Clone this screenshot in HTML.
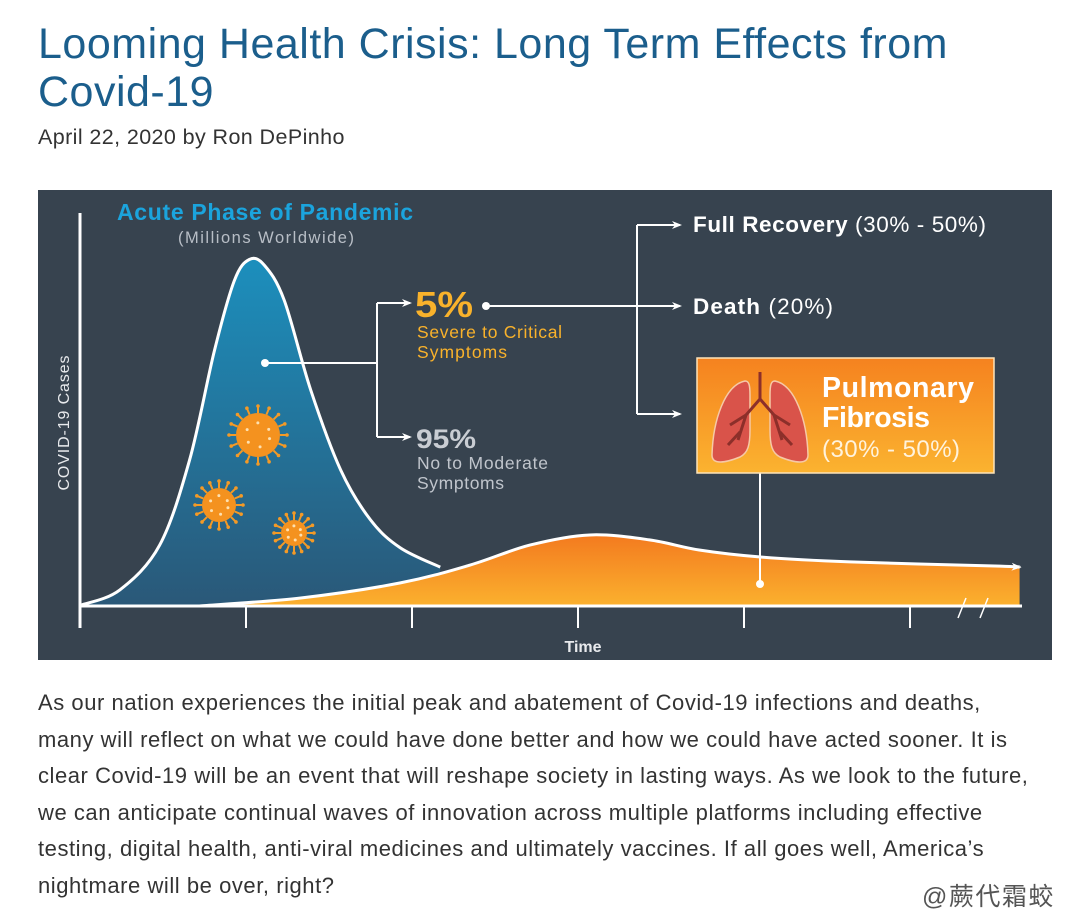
<!DOCTYPE html>
<html><head><meta charset="utf-8">
<style>
body{margin:0;background:#fff;width:1080px;height:924px;overflow:hidden;position:relative;font-family:"Liberation Sans","Noto Sans CJK SC",sans-serif;}
.title{position:absolute;left:38px;top:20px;width:1040px;font-size:43px;line-height:48px;color:#1b5e8c;margin:0;font-weight:normal;letter-spacing:0.5px;white-space:nowrap;}
.byline{position:absolute;left:38px;top:125px;font-size:21.5px;color:#333;letter-spacing:0.4px;}
.body{position:absolute;left:38px;top:685px;width:1040px;font-size:22px;line-height:36.6px;color:#333;letter-spacing:0.55px;white-space:nowrap;}
.wm{position:absolute;left:922px;top:877px;font-size:25px;color:#555;letter-spacing:1.5px;}
svg{position:absolute;left:38px;top:190px;}
</style></head><body>
<h1 class="title">Looming Health Crisis: Long Term Effects from<br>Covid-19</h1>
<div class="byline">April 22, 2020 by Ron DePinho</div>
<svg id="chart" width="1014" height="470" viewBox="38 190 1014 470">
<defs>
<linearGradient id="blueG" x1="0" y1="0" x2="0" y2="1"><stop offset="0" stop-color="#1c8fbd"/><stop offset="1" stop-color="#2a5878"/></linearGradient>
<linearGradient id="orG" x1="0" y1="0" x2="0" y2="1"><stop offset="0" stop-color="#f37a1f"/><stop offset="1" stop-color="#fbb12e"/></linearGradient>
<linearGradient id="boxG" x1="0" y1="0" x2="0" y2="1"><stop offset="0" stop-color="#f5821f"/><stop offset="1" stop-color="#fbb330"/></linearGradient>
<marker id="arr" markerWidth="10" markerHeight="10" refX="8" refY="5" orient="auto" markerUnits="userSpaceOnUse"><path d="M0,1 L10,5 L0,9 L3,5Z" fill="#fff"/></marker>
</defs>
<rect x="38" y="190" width="1014" height="470" fill="#37434f"/>
<g id="curves"></g>
<g id="axes"></g>
<g id="viruses"></g>
<text x="117" y="220" font-size="23" font-weight="bold" fill="#1ba4dd" textLength="296" lengthAdjust="spacing">Acute Phase of Pandemic</text>
<text x="178" y="243" font-size="16.5" fill="#b8bec6" textLength="176" lengthAdjust="spacing">(Millions Worldwide)</text>
<text transform="translate(69,423) rotate(-90)" font-size="16" fill="#e8eaed" text-anchor="middle" textLength="135" lengthAdjust="spacing">COVID-19 Cases</text>
<text x="583" y="652" font-size="16" font-weight="bold" fill="#e8eaed" text-anchor="middle">Time</text>
<g stroke="#fff" stroke-width="2" fill="none">
<circle cx="265" cy="363" r="4" fill="#fff" stroke="none"/>
<path d="M265,363 H377 M377,303 V437" />
<path d="M377,303 H410" marker-end="url(#arr)"/>
<path d="M377,437 H410" marker-end="url(#arr)"/>
<circle cx="486" cy="306" r="4" fill="#fff" stroke="none"/>
<path d="M486,306 H680" marker-end="url(#arr)"/>
<path d="M637,225 V414"/>
<path d="M637,225 H680" marker-end="url(#arr)"/>
<path d="M637,414 H680" marker-end="url(#arr)"/>
<path d="M760,473 V583"/>
<circle cx="760" cy="584" r="4" fill="#fff" stroke="none"/>
</g>
<text x="415" y="317" font-size="36" font-weight="bold" fill="#f9b22b" textLength="58" lengthAdjust="spacingAndGlyphs">5%</text>
<text x="417" y="338" font-size="17.5" fill="#f9b22b" textLength="145" lengthAdjust="spacing">Severe to Critical</text>
<text x="417" y="358" font-size="17.5" fill="#f9b22b" textLength="90" lengthAdjust="spacing">Symptoms</text>
<text x="416" y="448" font-size="27" font-weight="bold" fill="#c9cdd3" textLength="60" lengthAdjust="spacingAndGlyphs">95%</text>
<text x="417" y="469" font-size="17.5" fill="#c0c5cc" textLength="131" lengthAdjust="spacing">No to Moderate</text>
<text x="417" y="489" font-size="17.5" fill="#c0c5cc" textLength="87" lengthAdjust="spacing">Symptoms</text>
<text x="693" y="232" font-size="22.5" fill="#fff" textLength="293" lengthAdjust="spacing"><tspan font-weight="bold">Full Recovery</tspan> (30% - 50%)</text>
<text x="693" y="314" font-size="22.5" fill="#fff" textLength="140" lengthAdjust="spacing"><tspan font-weight="bold">Death</tspan> (20%)</text>
<rect x="697" y="358" width="297" height="115" fill="url(#boxG)" stroke="#fde3b8" stroke-width="1.5"/>
<g>
<path d="M745,381 C725,385 713,420 712,455 C712,465 725,463 740,457 C748,453 750,445 750,430 L750,395 C750,385 749,381 745,381Z" fill="#d9534a" stroke="#f6c9a6" stroke-width="1.5"/>
<path d="M775,381 C795,385 807,420 808,455 C808,465 795,463 780,457 C772,453 770,445 770,430 L770,395 C770,385 771,381 775,381Z" fill="#d9534a" stroke="#f6c9a6" stroke-width="1.5"/>
<path d="M760,372 V399 M760,399 L746,415 L738,440 M760,399 L774,415 L782,440 M746,415 L730,425 M774,415 L790,425 M740,432 L728,445 M780,432 L792,445" stroke="#8c2f2a" stroke-width="3" fill="none"/>
</g>
<text x="822" y="397" font-size="28.5" font-weight="bold" fill="#fff" textLength="152" lengthAdjust="spacing">Pulmonary</text>
<text x="822" y="427" font-size="28.5" font-weight="bold" fill="#fff" textLength="108" lengthAdjust="spacing">Fibrosis</text>
<text x="822" y="457" font-size="24" fill="#fff3dd" textLength="138" lengthAdjust="spacing">(30% - 50%)</text>
<g stroke="#fff" stroke-width="1.5"><line x1="958" y1="618" x2="966" y2="598"/><line x1="980" y1="618" x2="988" y2="598"/></g>
</svg>
<div class="body">As our nation experiences the initial peak and abatement of Covid-19 infections and deaths,<br>many will reflect on what we could have done better and how we could have acted sooner. It is<br>clear Covid-19 will be an event that will reshape society in lasting ways. As we look to the future,<br>we can anticipate continual waves of innovation across multiple platforms including effective<br>testing, digital health, anti-viral medicines and ultimately vaccines. If all goes well, America’s<br>nightmare will be over, right?</div>
<div class="wm">@蕨代霜蛟</div>
<script>
const acuteTime=[0.01,0.24,0.48,0.66,0.81,0.93,1.02,1.11,1.23,1.39,1.57,1.75,1.93,2.17];
const acuteCases=[0.3,4.6,17.4,41.7,73,93,99,97.4,87.4,61.7,38.9,24.6,16.6,11.1];
const longTime=[0.72,1.33,1.93,2.35,2.71,3.07,3.43,3.73,4.1,4.64,5.54,5.66];
const longCases=[0,2.3,6.6,11.7,17.4,20.3,18.9,16,14,12.6,11.4,11.1];
const tickTimes=[0,1,2,3,4,5];
const NS='http://www.w3.org/2000/svg';
function xS(t){return 80+t*166;}
function yS(v){return 606-v*3.5;}
function smooth(pts){let d='M'+pts[0][0]+','+pts[0][1];for(let i=0;i<pts.length-1;i++){const p0=pts[Math.max(0,i-1)],p1=pts[i],p2=pts[i+1],p3=pts[Math.min(pts.length-1,i+2)];const c1=[p1[0]+(p2[0]-p0[0])/6,p1[1]+(p2[1]-p0[1])/6],c2=[p2[0]-(p3[0]-p1[0])/6,p2[1]-(p3[1]-p1[1])/6];d+=' C'+c1[0]+','+c1[1]+' '+c2[0]+','+c2[1]+' '+p2[0]+','+p2[1];}return d;}
function mk(tag,attrs,parent){const e=document.createElementNS(NS,tag);for(const k in attrs)e.setAttribute(k,attrs[k]);parent.appendChild(e);return e;}
const cg=document.getElementById('curves');
const ap=acuteTime.map((t,i)=>[xS(t),yS(acuteCases[i])]);
const lp=longTime.map((t,i)=>[xS(t),yS(longCases[i])]);
const aLine=smooth(ap);
const blueArea=mk('path',{d:aLine+' L'+ap[ap.length-1][0]+','+yS(0)+' L'+ap[0][0]+','+yS(0)+'Z',fill:'url(#blueG)'},cg);


const blueLine=mk('path',{d:aLine,fill:'none',stroke:'#fff','stroke-width':3},cg);


const lLine=smooth(lp);
const orArea=mk('path',{d:lLine+' L'+lp[lp.length-1][0]+','+yS(0)+' L'+lp[0][0]+','+yS(0)+'Z',fill:'url(#orG)'},cg);


const orLine=mk('path',{d:lLine,fill:'none',stroke:'#fff','stroke-width':3,'marker-end':'url(#arr)'},cg);


const ax=document.getElementById('axes');
const yAxis=mk('line',{x1:xS(0),y1:213,x2:xS(0),y2:628,stroke:'#fff','stroke-width':3},ax);


const xAxis=mk('line',{x1:xS(0),y1:yS(0),x2:1022,y2:yS(0),stroke:'#fff','stroke-width':3},ax);


tickTimes.forEach(t=>{const tk=mk('line',{x1:xS(t),y1:yS(0),x2:xS(t),y2:628,stroke:'#fff','stroke-width':2},ax);

});
const vg=document.getElementById('viruses');
[[258,435,22],[219,505,17],[294,533,13]].forEach(([cx,cy,r])=>{const g=mk('g',{},vg);


for(let k=0;k<16;k++){const a=k*Math.PI/8;mk('line',{x1:cx+Math.cos(a)*r,y1:cy+Math.sin(a)*r,x2:cx+Math.cos(a)*(r+7),y2:cy+Math.sin(a)*(r+7),stroke:'#f49a26','stroke-width':2},g);mk('circle',{cx:cx+Math.cos(a)*(r+7),cy:cy+Math.sin(a)*(r+7),r:1.8,fill:'#f49a26'},g);}
mk('circle',{cx:cx,cy:cy,r:r,fill:'#f4921f'},g);
for(let k=0;k<6;k++){const a=k*1.1+0.3;mk('circle',{cx:cx+Math.cos(a)*r*0.55,cy:cy+Math.sin(a)*r*0.55,r:1.5,fill:'#fde0b0'},g);}});
</script>
</body></html>
